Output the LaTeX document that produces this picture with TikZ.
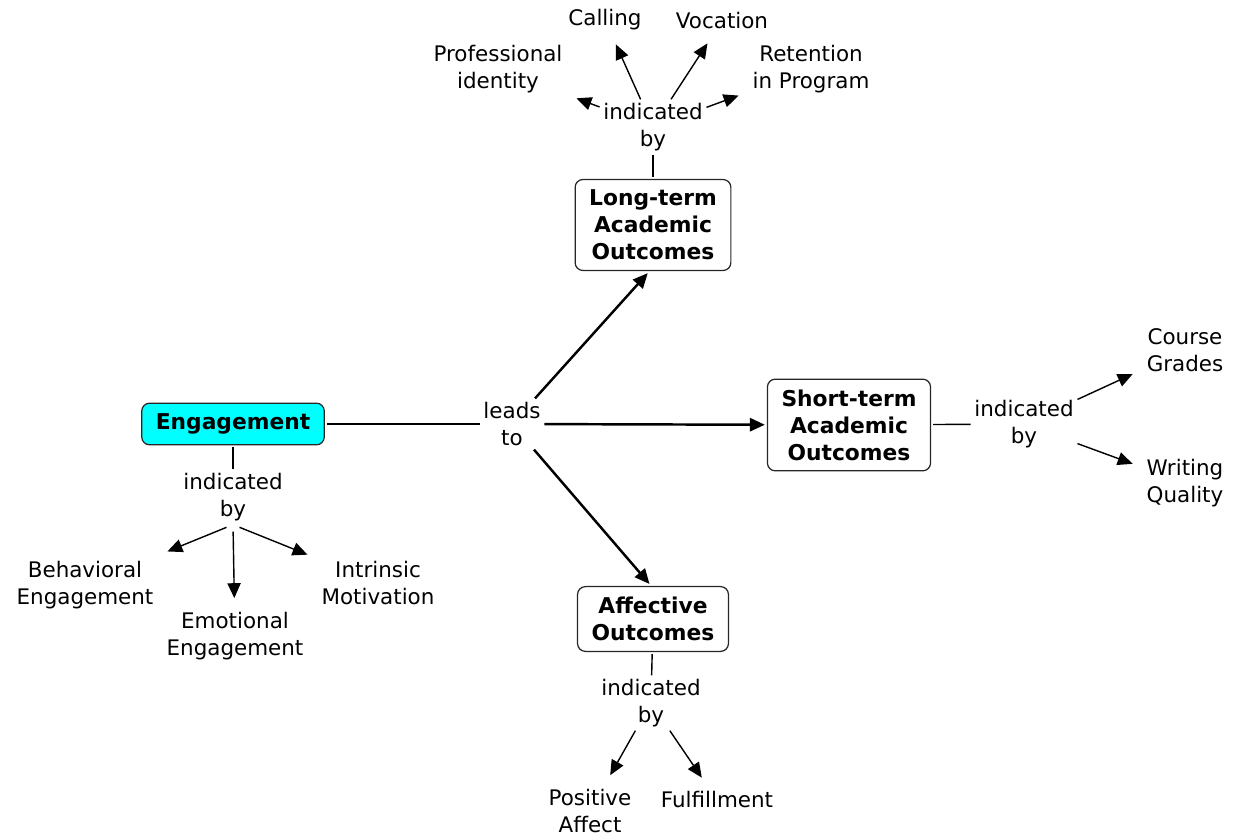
\documentclass[tikz,border=0pt]{standalone}
\usepackage{fontspec}
\setmainfont{DejaVu Sans}
\usetikzlibrary{arrows.meta}
\definecolor{engcyan}{RGB}{0,255,255}
\begin{document}
\begin{tikzpicture}[x=0.02cm,y=-0.02cm,
    font=\fontsize{12.2}{15.3}\selectfont,
    >={Triangle[length=8.5pt,width=7.5pt]},
    box/.style={draw=black!85,line width=0.7pt,rounded corners=4.5pt,align=center,
      font=\fontsize{12.4}{15.3}\selectfont\bfseries,inner xsep=8pt,inner ysep=6pt,outer sep=1.5pt},
    concept/.style={align=center,inner sep=1pt,outer sep=7pt},
    link/.style={align=center,inner sep=2pt},
    conn/.style={line width=0.8pt},
    boldconn/.style={line width=1.4pt}]
  \useasboundingbox (0,0) rectangle (1234,838);
  \node [box,fill=engcyan] (eng) at (233,424) {Engagement};
  \node [box] (lt) at (653,225) {Long-term\\Academic\\Outcomes};
  \node [box] (st) at (849,425) {Short-term\\Academic\\Outcomes};
  \node [box] (aff) at (653,619) {Affective\\Outcomes};
  \node [link] (leads) at (512,424) {leads\\to};
  \node [link] (lt-ind) at (653,127) {indicated\\by};
  \node [link] (st-ind) at (1024,424) {indicated\\by};
  \node [link] (eng-ind) at (233,497) {indicated\\by};
  \node [link] (aff-ind) at (651,703) {indicated\\by};
  \node [concept] (calling) at (605,20) {Calling};
  \node [concept] (vocation) at (722,21) {Vocation};
  \node [concept] (profid) at (498,69) {Professional\\identity};
  \node [concept] (retention) at (811,69) {Retention\\in Program};
  \node [concept] (grades) at (1185,350) {Course\\Grades};
  \node [concept] (writing) at (1185,483) {Writing\\Quality};
  \node [concept] (behav) at (85,585) {Behavioral\\Engagement};
  \node [concept] (emot) at (235,636) {Emotional\\Engagement};
  \node [concept] (intr) at (378,583) {Intrinsic\\Motivation};
  \node [concept] (pos) at (590,811) {Positive\\Affect};
  \node [concept] (fulfil) at (717,800) {Fulfillment};
  \draw [boldconn] (eng) -- (leads);
  \draw [boldconn,->] (leads) -- (st);
  \draw [boldconn,->] (leads) -- ([xshift=-3pt]lt.south);
  \draw [boldconn,->] (leads) -- ([xshift=-2pt]aff.north);
  \draw [conn] (lt-ind) -- (lt);
  \draw [conn,->] (lt-ind) -- (profid);
  \draw [conn,->] (lt-ind) -- (calling);
  \draw [conn,->] (lt-ind) -- (vocation);
  \draw [conn,->] (lt-ind) -- (retention);
  \draw [conn] (st) -- (st-ind);
  \draw [conn,->] (st-ind) -- (grades);
  \draw [conn,->] (st-ind) -- (writing);
  \draw [conn] (eng) -- (eng-ind);
  \draw [conn,->,shorten <=4pt] (eng-ind.south) -- (behav);
  \draw [conn,->,shorten <=4pt] (eng-ind.south) -- (emot);
  \draw [conn,->,shorten <=4pt] (eng-ind.south) -- (intr);
  \draw [conn] (aff) -- (aff-ind);
  \draw [conn,->] (aff-ind) -- (pos);
  \draw [conn,->] (aff-ind) -- (fulfil);
\end{tikzpicture}
\end{document}
